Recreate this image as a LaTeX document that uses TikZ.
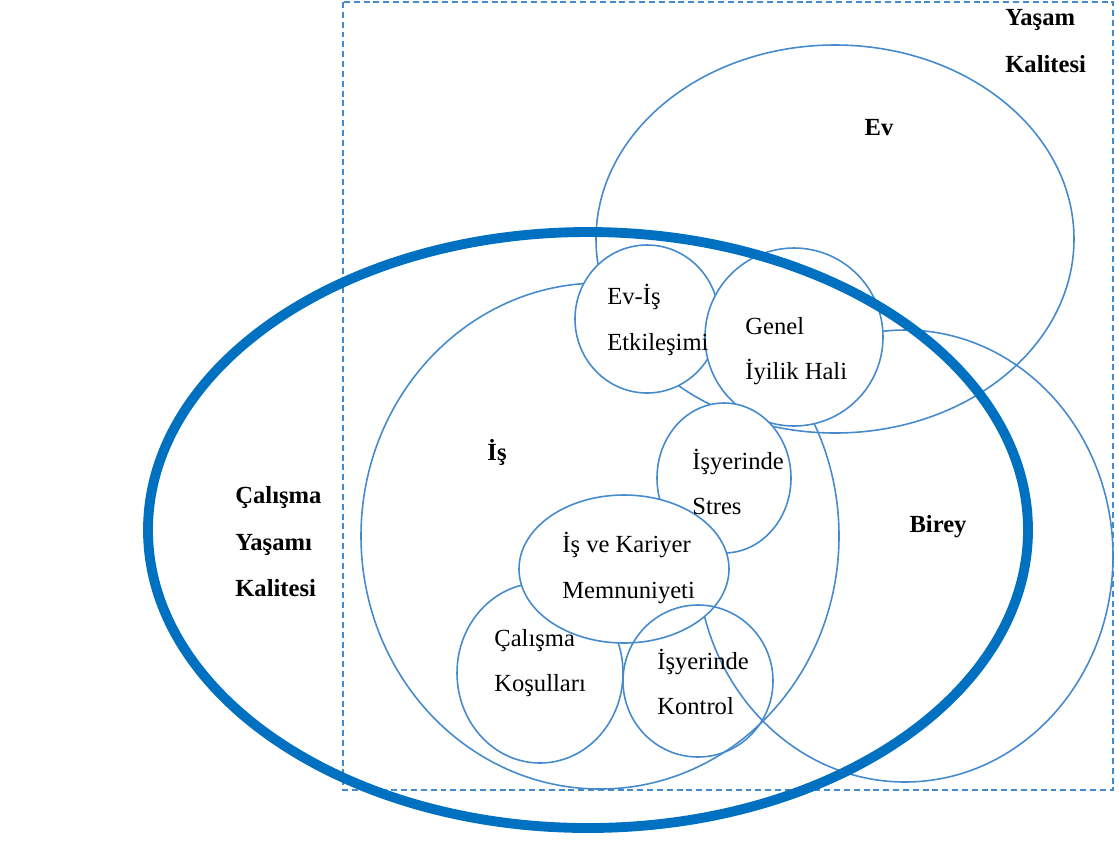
\documentclass[tikz,border=0pt]{standalone}
\usepackage{fontspec}
\setmainfont{Liberation Serif}
\usepackage{tikz}
\usetikzlibrary{positioning}
\definecolor{ringblue}{RGB}{68,138,205}
\definecolor{boldblue}{RGB}{0,112,192}

\begin{document}
\begin{tikzpicture}[x=0.02cm,y=-0.02cm,
	ring/.style={draw=ringblue,line width=0.9pt},
	disc/.style={ring,fill=white},
	lbl/.style={anchor=west,align=left,inner sep=0pt,font=\fontsize{14}{26}\selectfont},
	blbl/.style={lbl,font=\fontsize{14}{26.5}\selectfont\bfseries},
	head/.style={inner sep=0pt,font=\fontsize{14}{17}\selectfont\bfseries}]
		\useasboundingbox (0,0) rectangle (1119,843);
		% yasam kalitesi cercevesi
		\draw[draw=ringblue,line width=0.9pt,dash pattern=on 3.4pt off 2.2pt] (343,2) rectangle (1113,790);
		% buyuk alanlar
		\draw[ring] (600,536) ellipse [x radius=239,y radius=253];
		\draw[ring] (835,239) ellipse [x radius=239,y radius=194];
		\draw[ring] (905,556) ellipse [x radius=208,y radius=226];
		% kucuk daireler
		\draw[disc] (647,319) ellipse [x radius=72,y radius=74];
		\draw[disc] (794,337) ellipse [x radius=89,y radius=89];
		\draw[disc] (724,478) ellipse [x radius=67,y radius=75];
		\draw[disc] (540,673) ellipse [x radius=83,y radius=90];
		\draw[disc] (624,569) ellipse [x radius=105,y radius=74];
		\draw[ring] (698,681) ellipse [x radius=75,y radius=76];
		% calisma yasami kalitesi
		\draw[draw=boldblue,line width=5.6pt] (588,530) ellipse [x radius=440,y radius=298];
		% yazilar
		\node[blbl] (yasam) at (1005,41) {Yaşam\\Kalitesi};
		\node[head] (ev) at (879,128) {Ev};
		\node[lbl] (evis) at (607,320) {Ev-İş\\Etkileşimi};
		\node[lbl] (genel) at (745,351) {Genel\\İyilik Hali};
		\node[head] (is) at (497,452) {İş};
		\node[lbl] (stres) at (692,482) {İşyerinde\\Stres};
		\node[head] (birey) at (938,527) {Birey};
		\node[lbl] (memnun) at (562,568) {İş ve Kariyer\\Memnuniyeti};
		\node[lbl] (kosul) at (494,663) {Çalışma\\Koşulları};
		\node[lbl] (kontrol) at (657,682) {İşyerinde\\Kontrol};
		\node[blbl] (calisma) at (235,542) {Çalışma\\Yaşamı\\Kalitesi};
\end{tikzpicture}
\end{document}
